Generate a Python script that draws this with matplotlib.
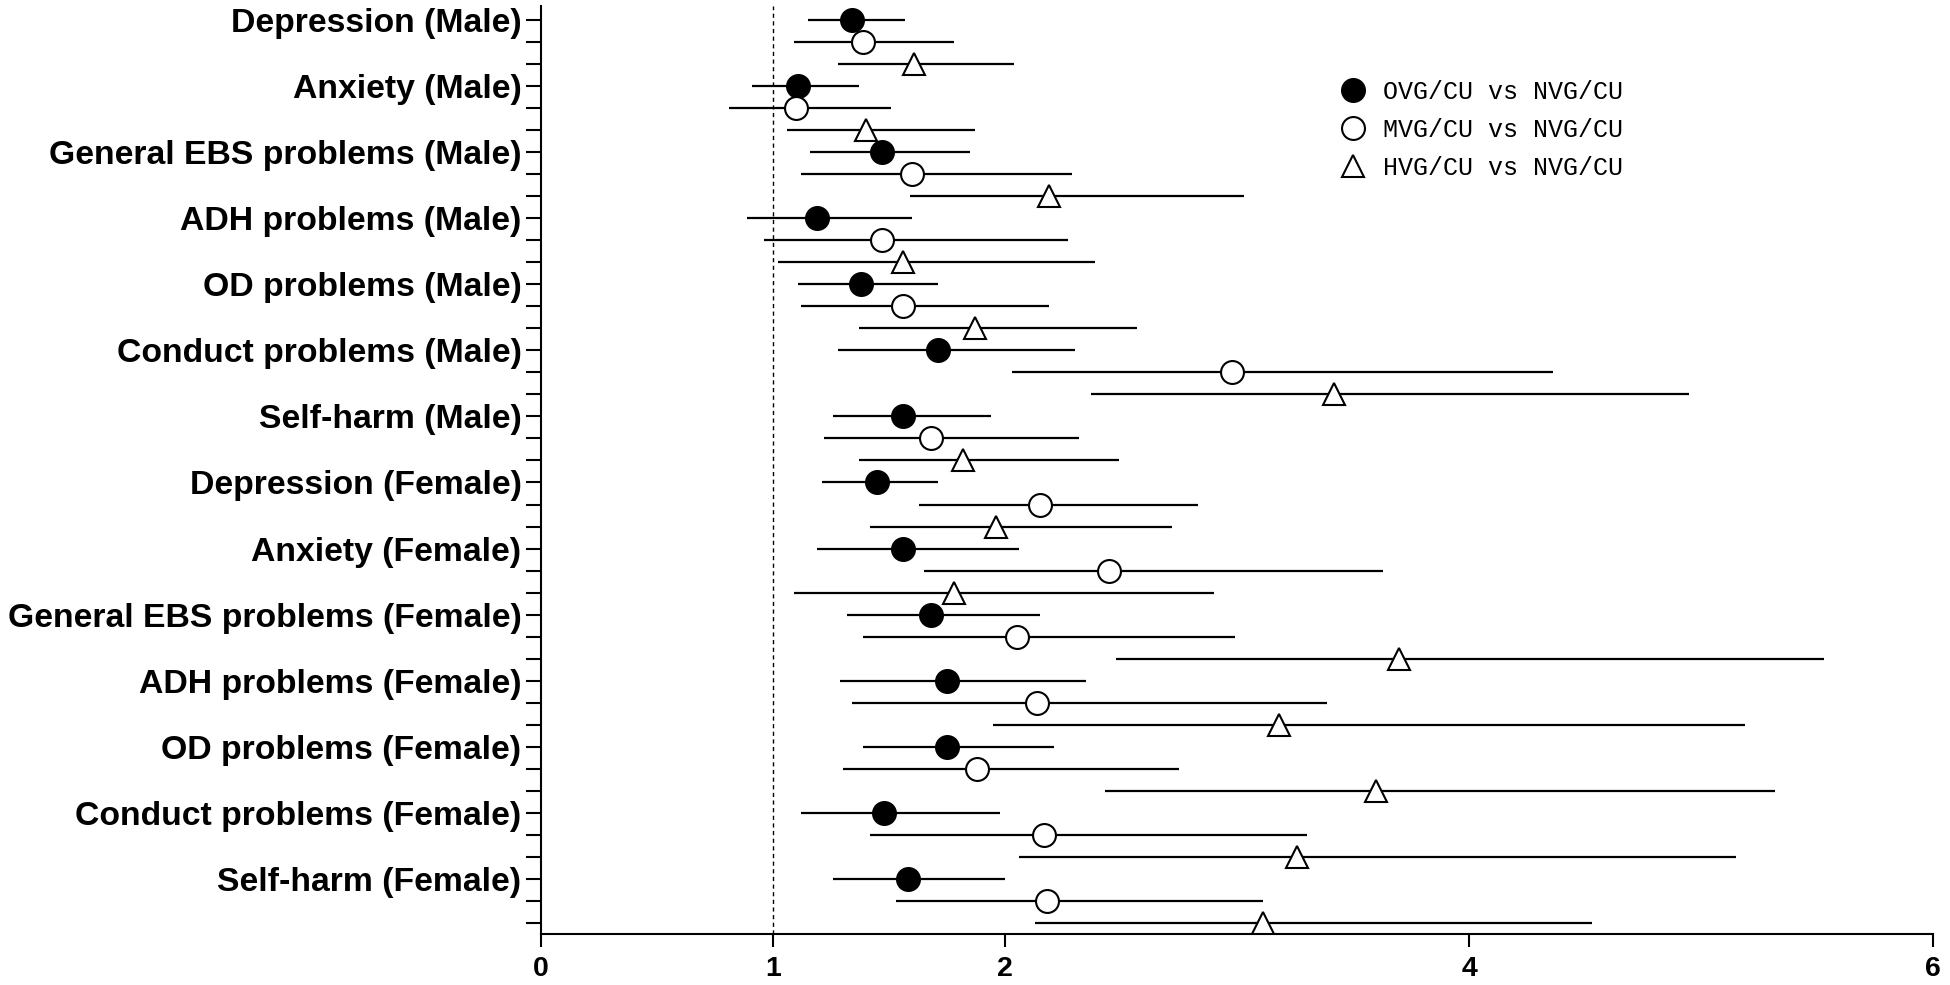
import matplotlib
matplotlib.use('Agg')
import matplotlib.pyplot as plt
import numpy as np
from matplotlib.lines import Line2D

# outcome categories (top to bottom)
categories = [
    'Depression (Male)', 'Anxiety (Male)', 'General EBS problems (Male)',
    'ADH problems (Male)', 'OD problems (Male)', 'Conduct problems (Male)',
    'Self-harm (Male)', 'Depression (Female)', 'Anxiety (Female)',
    'General EBS problems (Female)', 'ADH problems (Female)',
    'OD problems (Female)', 'Conduct problems (Female)', 'Self-harm (Female)',
]

# odds ratios and 95% CI
ovg_or = [1.34, 1.11, 1.47, 1.19, 1.38, 1.71, 1.56, 1.45, 1.56, 1.68, 1.75, 1.75, 1.48, 1.58]
ovg_lo = [1.15, 0.91, 1.16, 0.89, 1.11, 1.28, 1.26, 1.21, 1.19, 1.32, 1.29, 1.39, 1.12, 1.26]
ovg_hi = [1.57, 1.37, 1.85, 1.60, 1.71, 2.30, 1.94, 1.71, 2.06, 2.15, 2.35, 2.21, 1.98, 2.00]

mvg_or = [1.39, 1.10, 1.60, 1.47, 1.56, 2.98, 1.68, 2.15, 2.45, 2.05, 2.14, 1.88, 2.17, 2.18]
mvg_lo = [1.09, 0.81, 1.12, 0.96, 1.12, 2.03, 1.22, 1.63, 1.65, 1.39, 1.34, 1.30, 1.42, 1.53]
mvg_hi = [1.78, 1.51, 2.29, 2.27, 2.19, 4.36, 2.32, 2.83, 3.63, 2.99, 3.39, 2.75, 3.30, 3.11]

hvg_or = [1.61, 1.40, 2.19, 1.56, 1.87, 3.42, 1.82, 1.96, 1.78, 3.70, 3.18, 3.60, 3.26, 3.11]
hvg_lo = [1.28, 1.06, 1.59, 1.02, 1.37, 2.37, 1.37, 1.42, 1.09, 2.48, 1.95, 2.43, 2.06, 2.13]
hvg_hi = [2.04, 1.87, 3.03, 2.39, 2.57, 4.95, 2.49, 2.72, 2.90, 5.53, 5.19, 5.32, 5.15, 4.53]

legend_labels = ['OVG/CU vs NVG/CU', 'MVG/CU vs NVG/CU', 'HVG/CU vs NVG/CU']
x_ticks = [0, 1, 2, 4, 6]

groups = [
    (ovg_or, ovg_lo, ovg_hi, 'o', 'black'),
    (mvg_or, mvg_lo, mvg_hi, 'o', 'white'),
    (hvg_or, hvg_lo, hvg_hi, '^', 'white'),
]

n_cat = len(categories)
n_rows = 3 * n_cat

fig = plt.figure(figsize=(19.5, 9.85), dpi=100)
ax = fig.add_axes([0.2774, 0.0518, 0.9913 - 0.2774, 0.994 - 0.0518])

ax.axvline(1, color='black', lw=1.0, dashes=(3, 2.5), zorder=1)

handles = []
for g, (orv, lo, hi, mk, fc) in enumerate(groups):
    orv = np.array(orv)
    y = np.arange(n_cat) * 3 + g
    xerr = [orv - np.array(lo), np.array(hi) - orv]
    ax.errorbar(orv, y, xerr=xerr, fmt='none', ecolor='black', elinewidth=1.6,
                capsize=0, zorder=2)
    ax.plot(orv, y, linestyle='none', marker=mk, ms=16.5, mfc=fc, mec='black',
            mew=1.5, zorder=3)
    handles.append(Line2D([], [], linestyle='none', marker=mk, ms=16.5, mfc=fc,
                          mec='black', mew=1.5))

ax.set_xlim(0, 6)
ax.set_ylim(n_rows - 0.5, -0.64)

ax.set_xticks(x_ticks)
ax.set_xticklabels([str(t) for t in x_ticks], fontsize=20.5, fontweight='bold',
                   family='Liberation Sans')
ax.set_yticks(np.arange(n_rows))
ylabels = []
for i in range(n_rows):
    ylabels.append(categories[i // 3] if i % 3 == 0 else '')
ax.set_yticklabels(ylabels, fontsize=24.3, fontweight='bold', family='Liberation Sans')

ax.tick_params(axis='y', length=11, width=1.5, pad=3)
ax.tick_params(axis='x', length=9.5, width=1.5, pad=6)

for s in ['top', 'right']:
    ax.spines[s].set_visible(False)
for s in ['left', 'bottom']:
    ax.spines[s].set_linewidth(1.5)

fig.legend(handles, legend_labels, loc='upper left',
           bbox_to_anchor=(0.6876, 0.919), frameon=False,
           prop={'family': 'Liberation Mono', 'size': 18},
           handlelength=1.0, handletextpad=0.7, labelspacing=0.56,
           borderpad=0, borderaxespad=0)

fig.savefig('out.png', dpi=100)
